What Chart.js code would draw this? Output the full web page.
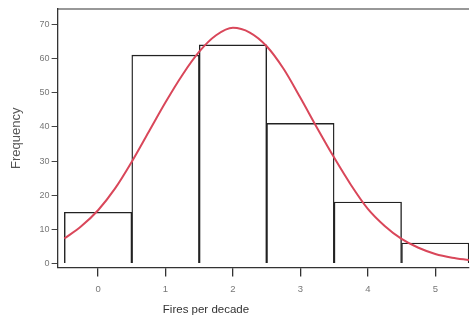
<!DOCTYPE html>
<html>
<head>
<meta charset="utf-8">
<script src="https://cdn.jsdelivr.net/npm/chart.js@4/dist/chart.umd.min.js"></script>
<style>
  html, body { margin: 0; padding: 0; background: #fff; }
  #wrap { width: 470px; height: 320px; }
</style>
</head>
<body>
<div id="wrap"><canvas id="hist_chart" width="470" height="320"></canvas></div>
<script>
// DATA
const fire_counts = [0, 1, 2, 3, 4, 5];
const frequencies = [15, 61, 64, 41, 18, 6];

// fitted normal curve
const curve_x = [-0.5, -0.25, 0, 0.25, 0.5, 0.75, 1, 1.25, 1.5, 1.75, 2, 2.25, 2.5,
  2.75, 3, 3.25, 3.5, 3.75, 4, 4.25, 4.5, 4.75, 5, 5.25, 5.5];
const curve_y = [7.3, 10.9, 15.6, 21.9, 29.8, 38.5, 47.2, 55.2, 62.0, 66.8, 69.0, 67.6, 63.6,
  57.0, 48.5, 39.6, 31.0, 23.0, 16.0, 11.0, 7.2, 4.6, 2.8, 1.7, 1.0];

const x_title = "Fires per decade";
const y_title = "Frequency";

const bar_points = fire_counts.map((c, i) => ({ x: c, y: frequencies[i] }));
const curve_points = curve_x.map((c, i) => ({ x: c, y: curve_y[i] }));

// top frame line + x title off-centre like the original
const framePlugin = {
  id: "frame",
  afterDraw(chart) {
    const { ctx, chartArea, scales } = chart;
    ctx.save();
    ctx.strokeStyle = "#333";
    ctx.lineWidth = 1.2;
    ctx.beginPath();
    ctx.moveTo(chartArea.left, chartArea.top);
    ctx.lineTo(chartArea.right, chartArea.top);
    ctx.stroke();
    ctx.fillStyle = "#333";
    ctx.font = '11.5px "Liberation Sans", Arial, sans-serif';
    ctx.textAlign = "center";
    ctx.textBaseline = "middle";
    ctx.fillText(x_title, scales.x.getPixelForValue(1.6), 310);
    ctx.restore();
  },
};

const ctx = document.getElementById("hist_chart").getContext("2d");

new Chart(ctx, {
  type: "bar",
  data: {
    datasets: [
      {
        type: "line",
        label: "Normal",
        data: curve_points,
        borderColor: "#d9475a",
        borderWidth: 2,
        pointRadius: 0,
        cubicInterpolationMode: "monotone",
        fill: false,
        order: 0,
      },
      {
        label: "Frequency",
        data: bar_points,
        backgroundColor: "#fff",
        borderColor: "#222",
        borderWidth: 1.4,
        barPercentage: 1,
        categoryPercentage: 1,
        order: 1,
      },
    ],
  },
  options: {
    responsive: false,
    animation: false,
    layout: { padding: { top: 9, right: 1, bottom: 18, left: 9 } },
    plugins: {
      legend: { display: false },
      tooltip: { enabled: false },
    },
    scales: {
      x: {
        type: "linear",
        min: -0.6,
        max: 5.5,
        offset: false,
        border: { display: true, color: "#333", width: 1.3 },
        grid: { offset: false, drawOnChartArea: false, drawTicks: true, tickLength: 9, color: "#333", lineWidth: 1.3 },
        ticks: {
          stepSize: 1,
          includeBounds: false,
          color: "#777",
          padding: 7,
          font: { family: '"Liberation Sans Narrow", "Liberation Sans", sans-serif', size: 9.5 },
        },
      },
      y: {
        min: -1.2,
        max: 74.5,
        border: { display: true, color: "#333", width: 1.3 },
        grid: { drawOnChartArea: false, drawTicks: true, tickLength: 6, color: "#444" },
        ticks: {
          stepSize: 10,
          includeBounds: false,
          color: "#777",
          padding: 2,
          font: { family: '"Liberation Sans Narrow", "Liberation Sans", sans-serif', size: 9 },
        },
        title: {
          display: true,
          text: y_title,
          color: "#555",
          padding: { top: 0, bottom: 13 },
          font: { family: '"Liberation Sans", Arial, sans-serif', size: 13 },
        },
      },
    },
  },
  plugins: [framePlugin],
});
</script>
</body>
</html>
